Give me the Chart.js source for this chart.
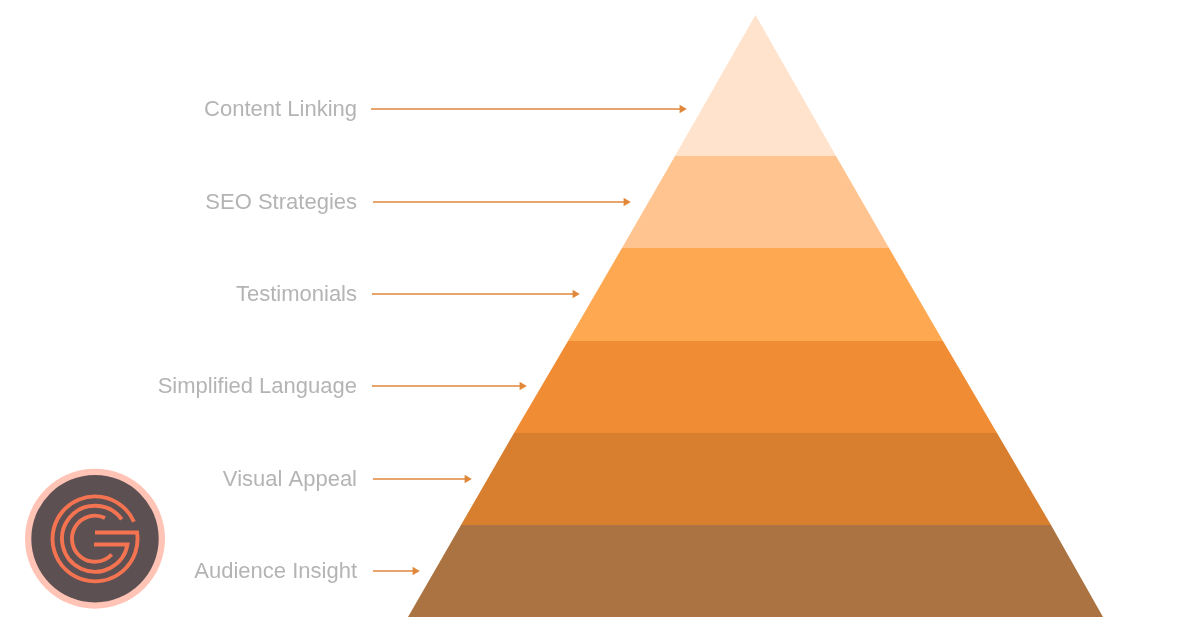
<!DOCTYPE html>
<html>
<head>
<meta charset="utf-8">
<style>
html,body{margin:0;padding:0;background:#fff;width:1200px;height:628px;overflow:hidden}
#wrap{position:relative;width:1200px;height:628px}
#logo{position:absolute;left:0;top:0}
canvas{display:block}
</style>
<script src="https://cdn.jsdelivr.net/npm/chart.js@4/dist/chart.umd.min.js"></script>
</head>
<body>
<div id="wrap">
<canvas id="c" width="1200" height="628"></canvas>
<svg id="logo" width="1200" height="628" viewBox="0 0 1200 628" fill="none" style="pointer-events:none">
  <circle cx="95" cy="538.7" r="70" fill="#FFC4B5"/>
  <circle cx="95" cy="538.7" r="63.7" fill="#5C5053"/>
  <g stroke="#F47350" stroke-width="3.9">
    <path d="M95 532.5H137.05A42.5 42.5 0 1 1 133.9 521.7"/>
    <path d="M94 544.5H127.5A33 33 0 1 1 121.7 519.3"/>
    <path d="M111.7 554.5A23 23 0 1 1 105 518"/>
  </g>
</svg>
</div>
<script>
const categories = ["Audience Insight","Visual Appeal","Simplified Language","Testimonials","SEO Strategies","Content Linking"];
const tierColors = ["#AB7341","#D87F2F","#F08C33","#FFA852","#FFC48F","#FFE3CC"];
const boundaryHeights = [0,92,184,276,369,461,602];
const boundaryLeft = [408,461,514,568,622,675,755.5];
const boundaryRight = [1103,1051,997,943,889,836,755.5];
const arrowHeights = [46,138,231,323,415,508];
const labelHeights = [45,137,230,322,414,507];
const arrowStart = [373,373,372,372,373,371];
const arrowEnd = [415,467,522,575,626,682];
const arrowColor = "#E0873A";

const tierSets = categories.map((name,i)=>({
  type:"scatter",
  label:name,
  showLine:true,
  data:[
    {x:boundaryLeft[i],y:boundaryHeights[i]},
    {x:boundaryRight[i],y:boundaryHeights[i]},
    {x:boundaryRight[i+1],y:boundaryHeights[i+1]},
    {x:boundaryLeft[i+1],y:boundaryHeights[i+1]},
    {x:boundaryLeft[i],y:boundaryHeights[i]}
  ],
  borderWidth:0,
  borderColor:tierColors[i],
  backgroundColor:tierColors[i],
  fill:"shape",
  pointRadius:0,
  tension:0,
  order:2
}));
const arrowSets = categories.map((name,i)=>({
  type:"scatter",
  label:name+" arrow",
  showLine:true,
  data:[{x:arrowStart[i],y:arrowHeights[i]},{x:arrowEnd[i],y:arrowHeights[i]}],
  borderWidth:1.5,
  borderColor:arrowColor,
  backgroundColor:arrowColor,
  fill:false,
  pointRadius:[0,4.8],
  pointStyle:"triangle",
  pointRotation:90,
  pointBorderWidth:0,
  order:1
}));

new Chart(document.getElementById("c"),{
  data:{datasets:[...tierSets,...arrowSets]},
  options:{
    responsive:false,
    animation:false,
    devicePixelRatio:1,
    layout:{padding:0,autoPadding:false},
    plugins:{legend:{display:false},tooltip:{enabled:false},title:{display:false}},
    scales:{
      x:{type:"linear",min:360,max:1200,display:false,grid:{display:false}},
      y:{
        type:"linear",min:-11,max:617,position:"left",
        border:{display:false},
        grid:{display:false,drawTicks:false},
        afterFit(s){s.width=360;s.paddingTop=0;s.paddingBottom=0;},
        afterBuildTicks(s){s.ticks=labelHeights.map(v=>({value:v}));},
        ticks:{
          autoSkip:false,padding:3,maxRotation:0,
          color:"#B4B4B4",
          font:{family:"'Liberation Sans',Arial,sans-serif",size:22},
          callback:(v)=>categories[labelHeights.indexOf(v)]
        }
      }
    }
  }
});
</script>
</body>
</html>
